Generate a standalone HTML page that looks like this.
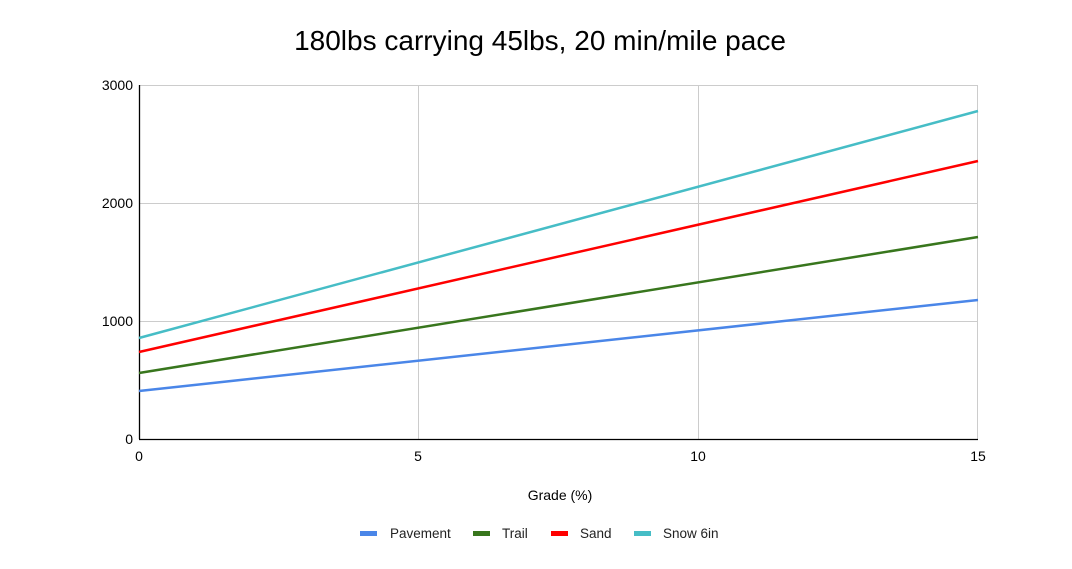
<!DOCTYPE html>
<html><head><meta charset="utf-8"><style>body{margin:0;background:#fff}svg{display:block}</style></head>
<body>
<svg width="1072" height="569" xmlns="http://www.w3.org/2000/svg" font-family="Liberation Sans, Arial, sans-serif">
<rect width="1072" height="569" fill="#fff"/>
<text x="540" y="50" text-anchor="middle" font-size="28" fill="#000">180lbs carrying 45lbs, 20 min/mile pace</text>
<g stroke="#ccc" stroke-width="1">
<line x1="139" y1="85.5" x2="978" y2="85.5"/>
<line x1="139" y1="203.5" x2="978" y2="203.5"/>
<line x1="139" y1="321.5" x2="978" y2="321.5"/>
<line x1="418.5" y1="85" x2="418.5" y2="439"/>
<line x1="698.5" y1="85" x2="698.5" y2="439"/>
<line x1="977.5" y1="85" x2="977.5" y2="439"/>
</g>
<line x1="139.5" y1="85" x2="139.5" y2="439" stroke="#000" stroke-width="1.3"/>
<line x1="139" y1="439.5" x2="978" y2="439.5" stroke="#000" stroke-width="1.3"/>
<g font-size="14" fill="#000" text-anchor="end">
<text x="133" y="90">3000</text><text x="133" y="208">2000</text><text x="133" y="326">1000</text><text x="133" y="444">0</text>
</g>
<g font-size="14" fill="#000" text-anchor="middle">
<text x="139" y="461">0</text><text x="418" y="461">5</text><text x="698" y="461">10</text><text x="978" y="461">15</text>
<text x="560" y="500">Grade (%)</text>
</g>
<g stroke-width="2.5" fill="none">
<line x1="139" y1="391" x2="978" y2="300" stroke="#4a86e8"/>
<line x1="139" y1="373" x2="978" y2="237" stroke="#38761d"/>
<line x1="139" y1="352" x2="978" y2="161" stroke="#ff0000"/>
<line x1="139" y1="338" x2="978" y2="111" stroke="#46bdc6"/>
</g>
<g font-size="13.5" fill="#222">
<rect x="360" y="531" width="17" height="5" fill="#4a86e8"/><text x="390" y="538">Pavement</text>
<rect x="473" y="531" width="17" height="5" fill="#38761d"/><text x="502" y="538">Trail</text>
<rect x="551" y="531" width="17" height="5" fill="#ff0000"/><text x="580" y="538">Sand</text>
<rect x="634" y="531" width="17" height="5" fill="#46bdc6"/><text x="663" y="538">Snow 6in</text>
</g>
</svg>
</body></html>
